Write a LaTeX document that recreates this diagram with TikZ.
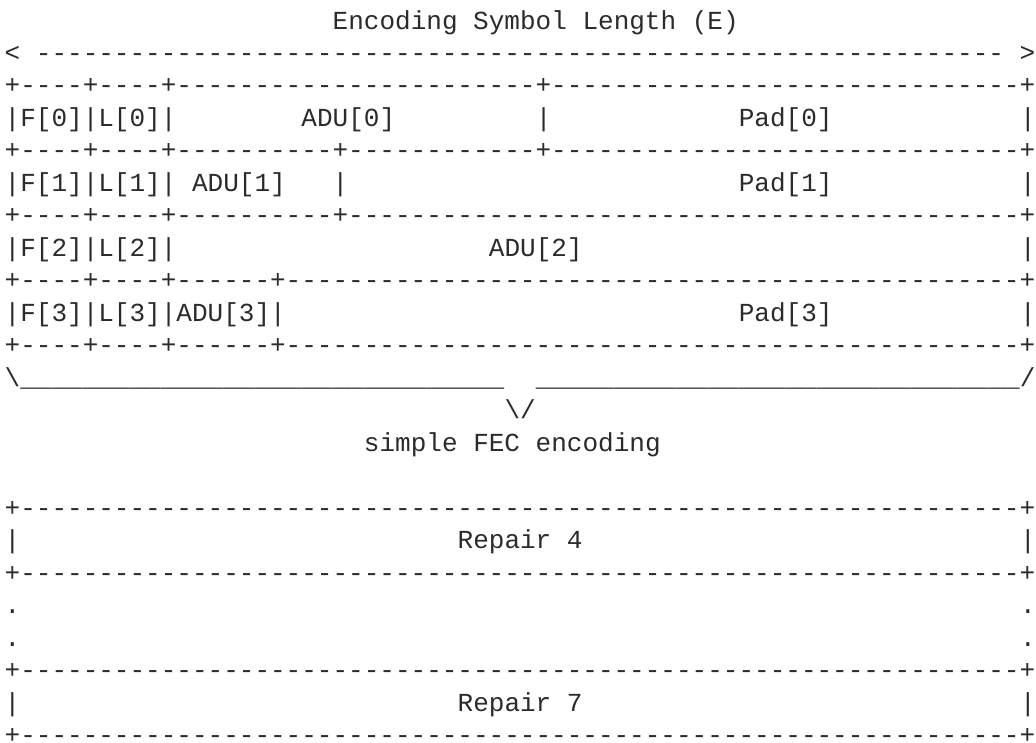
\documentclass[tikz,border=0pt]{standalone}
\usepackage{fontspec}
\setmonofont{Liberation Mono}
\definecolor{ink}{HTML}{2B2B2B}

\ExplSyntaxOn
\NewDocumentCommand{\dashrun}{m}{\prg_replicate:nn{#1}{-}}
\NewDocumentCommand{\underrun}{m}{\prg_replicate:nn{#1}{\_}}
\ExplSyntaxOff

\begin{document}
\begin{tikzpicture}[
    x=11.7225pt, y=-24.375pt,
    ascii/.style={anchor=base west, inner sep=0pt, outer sep=0pt, text=ink, font=\ttfamily\fontsize{19.53pt}{24pt}\selectfont}
]
    \path[use as bounding box, fill=white] (-0.300,-0.893) rectangle (66.025,21.983);

    % source block
    \node[ascii] (title) at (21,0) {Encoding Symbol Length (E)};
    \node[ascii] (span) at (0,1) {< \dashrun{62} >};
    \node[ascii] (rule0) at (0,2) {+\dashrun{4}+\dashrun{4}+\dashrun{23}+\dashrun{30}+};
    \node[ascii] (fl0) at (0,3) {|F[0]|L[0]|};
    \node[ascii] (adu0) at (19,3) {ADU[0]};
    \node[ascii] (sep0) at (34,3) {|};
    \node[ascii] (pad0) at (47,3) {Pad[0]};
    \node[ascii] (end0) at (65,3) {|};
    \node[ascii] (rule1) at (0,4) {+\dashrun{4}+\dashrun{4}+\dashrun{10}+\dashrun{12}+\dashrun{30}+};
    \node[ascii] (fl1) at (0,5) {|F[1]|L[1]| ADU[1]};
    \node[ascii] (sep1) at (21,5) {|};
    \node[ascii] (pad1) at (47,5) {Pad[1]};
    \node[ascii] (end1) at (65,5) {|};
    \node[ascii] (rule2) at (0,6) {+\dashrun{4}+\dashrun{4}+\dashrun{10}+\dashrun{43}+};
    \node[ascii] (fl2) at (0,7) {|F[2]|L[2]|};
    \node[ascii] (adu2) at (31,7) {ADU[2]};
    \node[ascii] (end2) at (65,7) {|};
    \node[ascii] (rule3) at (0,8) {+\dashrun{4}+\dashrun{4}+\dashrun{6}+\dashrun{47}+};
    \node[ascii] (fl3) at (0,9) {|F[3]|L[3]|ADU[3]|};
    \node[ascii] (pad3) at (47,9) {Pad[3]};
    \node[ascii] (end3) at (65,9) {|};
    \node[ascii] (rule4) at (0,10) {+\dashrun{4}+\dashrun{4}+\dashrun{6}+\dashrun{47}+};

    % brace and label
    \node[ascii] (braceL) at (0,11) {\textbackslash\underrun{31}};
    \node[ascii] (braceR) at (34,11) {\underrun{31}/};
    \node[ascii] (tip) at (32,12) {\textbackslash/};
    \node[ascii] (fec) at (23,13) {simple FEC encoding};

    % repair symbols
    \node[ascii] (rule5) at (0,15) {+\dashrun{64}+};
    \node[ascii] (r4L) at (0,16) {|};
    \node[ascii] (rep4) at (29,16) {Repair 4};
    \node[ascii] (r4R) at (65,16) {|};
    \node[ascii] (rule6) at (0,17) {+\dashrun{64}+};
    \node[ascii] (dotL1) at (0,18) {.};
    \node[ascii] (dotR1) at (65,18) {.};
    \node[ascii] (dotL2) at (0,19) {.};
    \node[ascii] (dotR2) at (65,19) {.};
    \node[ascii] (rule7) at (0,20) {+\dashrun{64}+};
    \node[ascii] (r7L) at (0,21) {|};
    \node[ascii] (rep7) at (29,21) {Repair 7};
    \node[ascii] (r7R) at (65,21) {|};
    \node[ascii] (rule8) at (0,22) {+\dashrun{64}+};
\end{tikzpicture}
\end{document}
